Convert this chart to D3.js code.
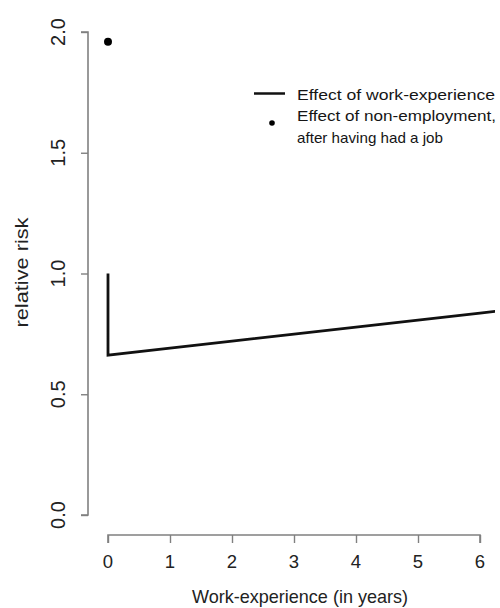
<!DOCTYPE html>
<html>
<head>
<meta charset="utf-8">
<script src="https://cdn.jsdelivr.net/npm/d3@7/dist/d3.min.js"></script>
<style>
  html, body { margin: 0; padding: 0; background: #fff; }
  svg { display: block; font-family: "Liberation Sans", Arial, sans-serif; }
</style>
</head>
<body>
<script>
// ---- data ----
const workYears   = [0, 0, 1, 2, 3, 4, 5, 6, 6.5];
const workRisk    = [1.0, 0.662, 0.691, 0.720, 0.749, 0.778, 0.807, 0.836, 0.851];
const nonEmpYears = [0];
const nonEmpRisk  = [1.96];
const xTicks = [0, 1, 2, 3, 4, 5, 6];
const yTicks = [0.0, 0.5, 1.0, 1.5, 2.0];
const yTickLabels = ["0.0", "0.5", "1.0", "1.5", "2.0"];
const legendLabels = ["Effect of work-experience", ["Effect of non-employment,", "after having had a job"]];
const xTitle = "Work-experience (in years)";
const yTitle = "relative risk";

const W = 500, H = 608;
const svg = d3.select("body").append("svg").attr("width", W).attr("height", H);

const x = d3.scaleLinear().domain([0, 6]).range([108, 480]);
const y = d3.scaleLinear().domain([0, 2]).range([515, 32]);

const axisColor = "#808080";
const textColor = "#222";

// clip for plot region
svg.append("clipPath").attr("id", "plotclip")
  .append("rect").attr("x", 88).attr("y", 0).attr("width", 407).attr("height", 535);

// y axis
const yAxis = svg.append("g").attr("transform", "translate(88,0)")
  .call(d3.axisLeft(y).tickValues(yTicks).tickSize(7).tickFormat(""));
yAxis.select(".domain").attr("d", `M-7,${y(0)}H0V${y(2)}H-7`).attr("stroke", axisColor).attr("stroke-width", 1.6).attr("fill", "none");
yAxis.selectAll(".tick line").attr("stroke", axisColor).attr("stroke-width", 1.4);

yTicks.forEach((v, i) => {
  svg.append("text")
    .attr("transform", `translate(65,${y(v)}) rotate(-90)`)
    .attr("text-anchor", "middle")
    .attr("font-size", 20)
    .attr("fill", textColor)
    .text(yTickLabels[i]);
});

// x axis
const xAxis = svg.append("g").attr("transform", "translate(0,535)")
  .call(d3.axisBottom(x).tickValues(xTicks).tickSize(8).tickFormat(""));
xAxis.select(".domain").attr("d", `M${x(0)},8V0H${x(6)}V8`).attr("stroke", axisColor).attr("stroke-width", 1.6).attr("fill", "none");
xAxis.selectAll(".tick line").attr("stroke", axisColor).attr("stroke-width", 1.4);

xTicks.forEach(v => {
  svg.append("text")
    .attr("x", x(v)).attr("y", 568)
    .attr("text-anchor", "middle")
    .attr("font-size", 18.5)
    .attr("fill", textColor)
    .text(String(v));
});

// axis titles
svg.append("text")
  .attr("x", 300).attr("y", 603)
  .attr("text-anchor", "middle")
  .attr("font-size", 18.5)
  .attr("textLength", 216).attr("lengthAdjust", "spacingAndGlyphs")
  .attr("fill", textColor)
  .text(xTitle);

svg.append("text")
  .attr("transform", "translate(28,272.5) rotate(-90)")
  .attr("text-anchor", "middle")
  .attr("font-size", 19)
  .attr("textLength", 110).attr("lengthAdjust", "spacingAndGlyphs")
  .attr("fill", textColor)
  .text(yTitle);

// data line
const pts = workYears.map((d, i) => [d, workRisk[i]]);
svg.append("path")
  .attr("clip-path", "url(#plotclip)")
  .attr("d", d3.line().x(d => x(d[0])).y(d => y(d[1]))(pts))
  .attr("fill", "none")
  .attr("stroke", "#111")
  .attr("stroke-width", 2.8)
  .attr("stroke-linejoin", "miter");

// non-employment point
svg.selectAll("circle.pt").data(nonEmpYears.map((d, i) => [d, nonEmpRisk[i]]))
  .enter().append("circle")
  .attr("class", "pt")
  .attr("cx", d => x(d[0])).attr("cy", d => y(d[1]))
  .attr("r", 4).attr("fill", "#000");

// legend
const lg = svg.append("g");
lg.append("line").attr("x1", 254).attr("x2", 285).attr("y1", 93.5).attr("y2", 93.5)
  .attr("stroke", "#111").attr("stroke-width", 2.5);
lg.append("circle").attr("cx", 272).attr("cy", 123).attr("r", 2.8).attr("fill", "#000");
const legendRows = [
  { t: legendLabels[0], y: 100, len: 198 },
  { t: legendLabels[1][0], y: 121, len: 199 },
  { t: legendLabels[1][1], y: 143, len: 146 }
];
legendRows.forEach(r => {
  lg.append("text").attr("x", 297).attr("y", r.y)
    .attr("font-size", 15).attr("fill", "#151515")
    .attr("textLength", r.len).attr("lengthAdjust", "spacingAndGlyphs")
    .text(r.t);
});
</script>
</body>
</html>
